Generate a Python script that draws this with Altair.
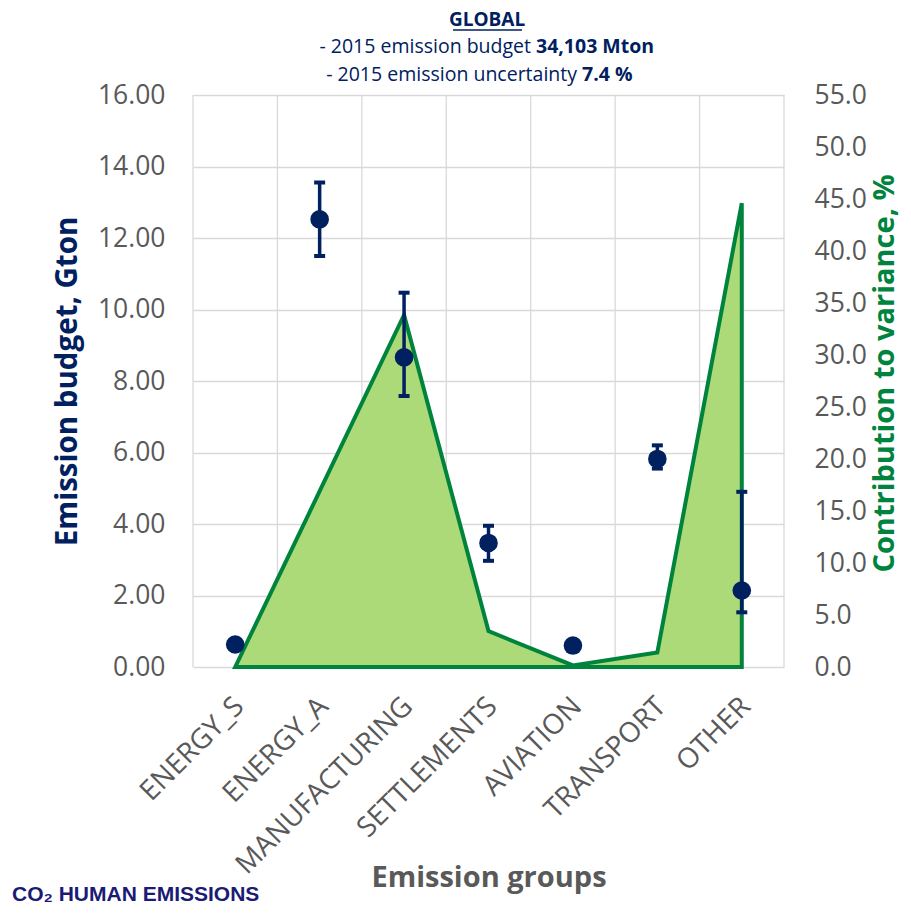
import json
import altair as alt
import pandas as pd

# ---- data ----
categories = ["ENERGY_S", "ENERGY_A", "MANUFACTURING", "SETTLEMENTS", "AVIATION", "TRANSPORT", "OTHER"]
budget = [0.63, 12.52, 8.66, 3.47, 0.60, 5.82, 2.14]
err_low = [0.63, 11.50, 7.58, 2.97, 0.60, 5.55, 1.53]
err_high = [0.63, 13.55, 10.47, 3.95, 0.60, 6.20, 4.90]
variance = [0.0, 16.9, 33.85, 3.45, 0.15, 1.40, 44.6]

left_ticks = [0, 2, 4, 6, 8, 10, 12, 14, 16]
right_ticks = [0, 5, 10, 15, 20, 25, 30, 35, 40, 45, 50, 55]

title_main = "GLOBAL"
sub1_normal = "- 2015 emission budget"
sub1_bold = "34,103 Mton"
sub2_normal = "- 2015 emission uncertainty"
sub2_bold = "7.4 %"
footer = "CO\u2082 HUMAN EMISSIONS"

df = pd.DataFrame({"i": list(range(len(categories))), "cat": categories, "budget": budget,
                   "lo": err_low, "hi": err_high, "var": variance})
bounds = pd.DataFrame({"i": [k - 0.5 for k in range(len(categories) + 1)]})

W, H = 591, 572
NAVY = "#002060"
GREEN = "#00843d"
FILL = "#acda79"
GREY = "#595959"
GRID = "#d9d9d9"
FONT = "Open Sans"

xscale = alt.Scale(domain=[-0.5, len(categories) - 0.5], nice=False, zero=False)
lscale = alt.Scale(domain=[0, 16], nice=False)
rscale = alt.Scale(domain=[0, 55], nice=False)

xaxis = alt.Axis(values=list(range(len(categories))),
                 labelExpr=json.dumps(categories) + "[datum.value]",
                 labelAngle=-45, labelAlign="right", labelBaseline="middle",
                 labelFontSize=28, labelColor=GREY, labelFont=FONT, labelPadding=35,
                 labelOffset=4, labelOverlap=False, labelLimit=500, labelFlush=False,
                 grid=False, ticks=False, domain=False,
                 title="Emission groups", titleFont=FONT, titleFontSize=29,
                 titleColor=GREY, titleFontWeight="bold", titleX=W / 2, titleY=219,
                 titleBaseline="alphabetic", titleAlign="center")

X = alt.X("i:Q", scale=xscale, axis=xaxis)

vgrid = alt.Chart(bounds).mark_rule(color=GRID, strokeWidth=1.3).encode(x=X)

area = alt.Chart(df).mark_area(fill=FILL, stroke=GREEN, strokeWidth=4, fillOpacity=1,
                               strokeJoin="miter").encode(
    x=X,
    y=alt.Y("var:Q", scale=rscale,
            axis=alt.Axis(orient="right", values=right_ticks, format=".1f", grid=False,
                          ticks=False, domain=False, labelFontSize=26.5, labelColor=GREY,
                          labelFont=FONT, labelPadding=30,
                          title="Contribution to variance, %", titleFont=FONT,
                          titleFontSize=29, titleFontWeight="bold", titleColor=GREEN,
                          titleAngle=-90, titleX=100, titleY=H / 2 - 8, titleAlign="center",
                          titleBaseline="middle")))

ebar = alt.Chart(df).mark_rule(color=NAVY, strokeWidth=3.5).encode(
    x=X, y=alt.Y("lo:Q", scale=lscale, axis=None), y2="hi:Q")

cap_lo = alt.Chart(df).mark_tick(color=NAVY, orient="horizontal", size=11, thickness=4,
                                 opacity=1).encode(
    x=X, y=alt.Y("lo:Q", scale=lscale, axis=None))
cap_hi = alt.Chart(df).mark_tick(color=NAVY, orient="horizontal", size=11, thickness=4,
                                 opacity=1).encode(
    x=X, y=alt.Y("hi:Q", scale=lscale, axis=None))

points = alt.Chart(df).mark_circle(size=346, color=NAVY, opacity=1).encode(
    x=X,
    y=alt.Y("budget:Q", scale=lscale,
            axis=alt.Axis(orient="left", values=left_ticks, format=".2f", grid=True,
                          gridColor=GRID, gridWidth=1.3, ticks=False, domain=False,
                          labelFontSize=26.5, labelColor=GREY, labelFont=FONT,
                          labelPadding=28,
                          title="Emission budget, Gton", titleFont=FONT, titleFontSize=29.5,
                          titleFontWeight="bold", titleColor=NAVY, titleAngle=-90,
                          titleX=-126, titleY=H / 2, titleAlign="center",
                          titleBaseline="middle")),
    tooltip=["cat:N", "budget:Q"])

one = pd.DataFrame({"k": [0]})


def txt(text, x, y, size, weight="normal", align="center", color=NAVY, font=FONT):
    return alt.Chart(one).mark_text(text=text, fontSize=size, fontWeight=weight, align=align,
                                    baseline="alphabetic", color=color, font=font).encode(
        x=alt.value(x), y=alt.value(y))


t_main = txt(title_main, 294, -69, 19, "bold")
underline = alt.Chart(one).mark_rule(color=NAVY, strokeWidth=1.5).encode(
    x=alt.value(260), x2=alt.value(329), y=alt.value(-65))
t1a = txt(sub1_normal, 338, -42, 19.5, align="right")
t1b = txt(sub1_bold, 343, -42, 19.5, "bold", align="left")
t2a = txt(sub2_normal, 384, -14, 19.5, align="right")
t2b = txt(sub2_bold, 389, -14, 19.5, "bold", align="left")
t_foot = txt(footer, -181, 806, 21, "bold", align="left", color="#1b1b74",
             font="Liberation Sans")

chart = alt.layer(vgrid, area, ebar, cap_lo, cap_hi, points,
                  t_main, underline, t1a, t1b, t2a, t2b, t_foot).resolve_scale(
    y="independent").properties(
    width=W, height=H,
    autosize=alt.AutoSizeParams(type="none"),
    padding={"left": 185, "top": 87, "right": 119, "bottom": 240},
).configure_view(stroke=None)

chart.save("out.html", embed_options={"renderer": "svg", "actions": False})
